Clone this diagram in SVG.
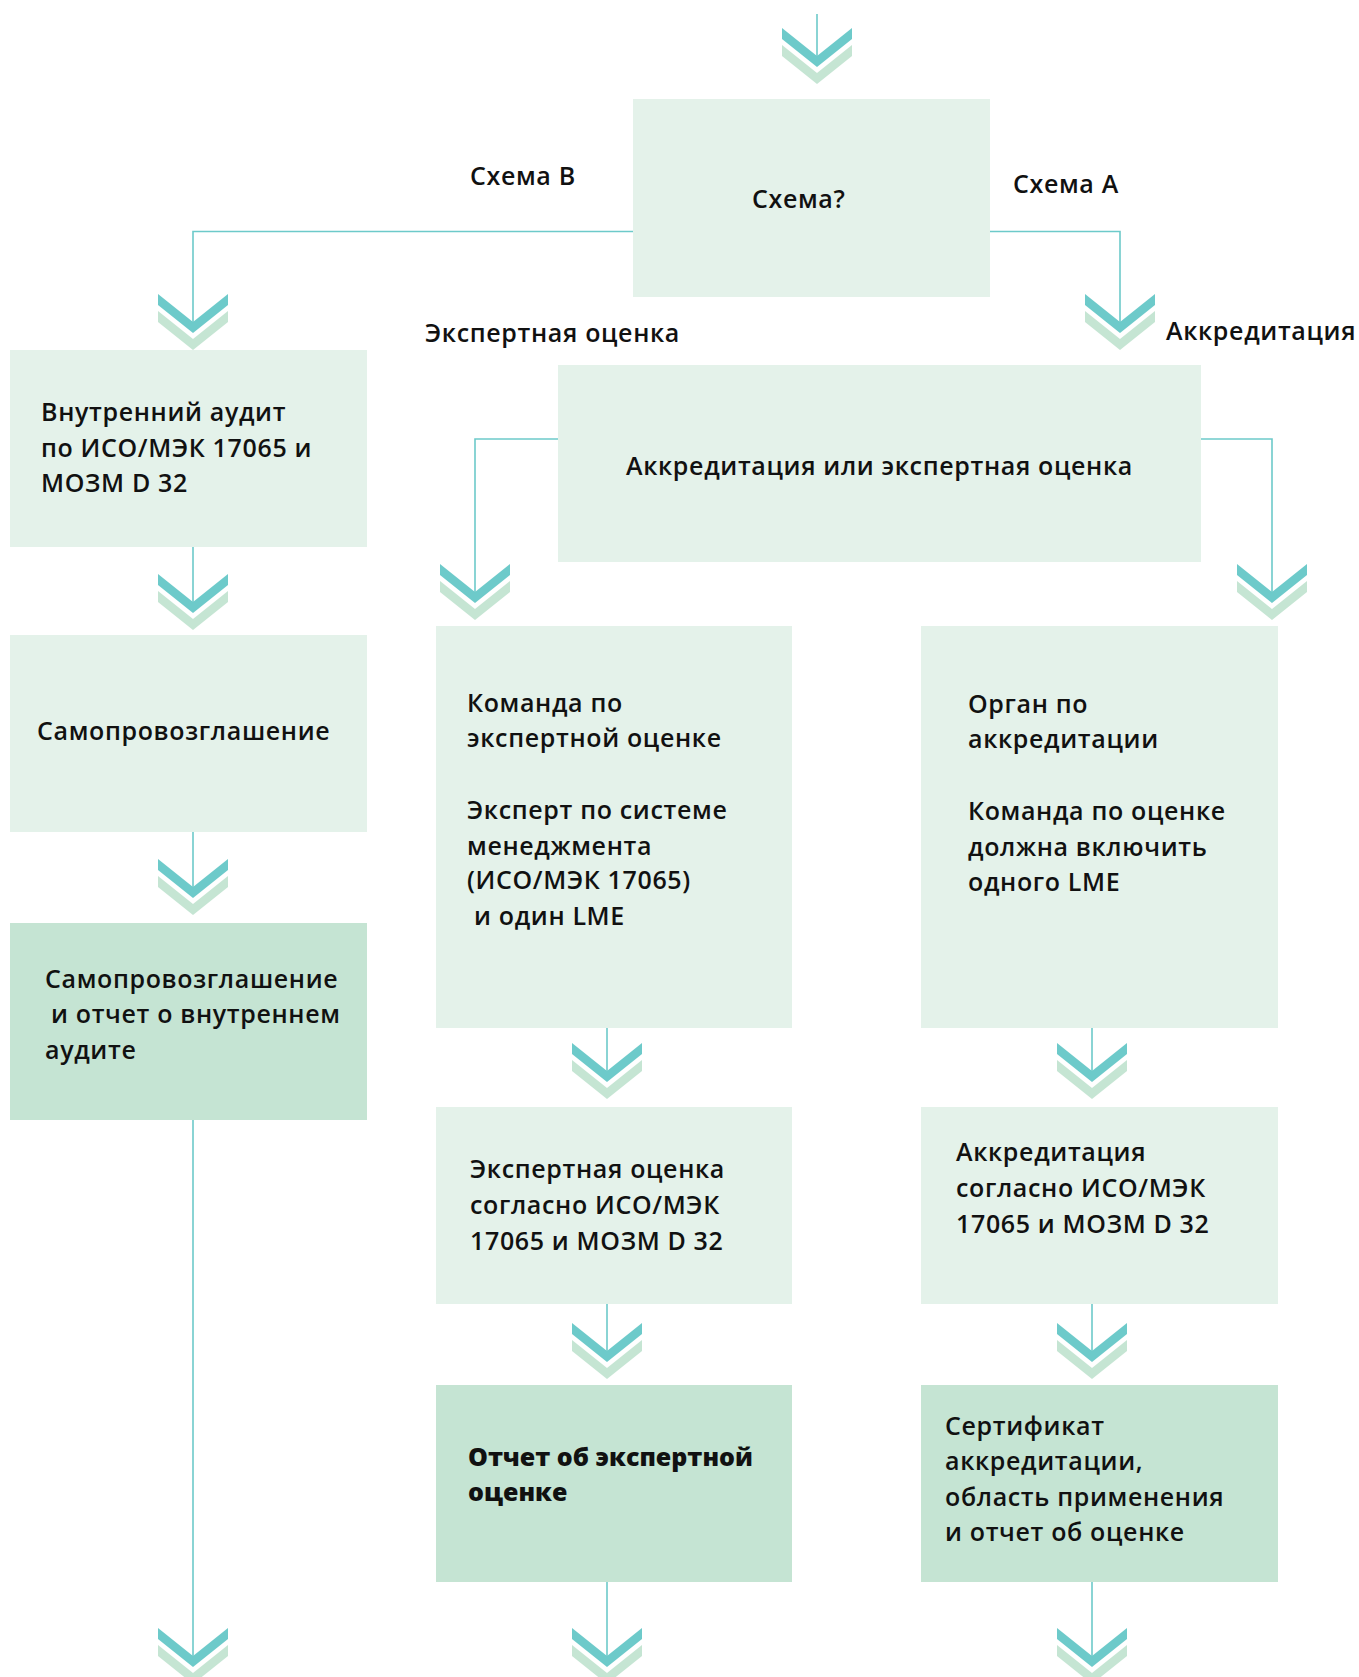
<svg xmlns="http://www.w3.org/2000/svg" xmlns:xlink="http://www.w3.org/1999/xlink" width="1359" height="1677" viewBox="0 0 1359 1677">
<style>
.box{fill:#e4f2ea}
.dark{fill:#c5e4d3}
.t{font-family:"Open Sans","Noto Sans","DejaVu Sans",sans-serif;font-weight:600;font-size:25px;fill:#111;letter-spacing:0.65px}
.b{font-weight:800;letter-spacing:0px}
.conn{fill:none;stroke:#6dcaca;stroke-width:1.6}
</style>
<defs>
<g id="chev">
<polygon points="-35,17 0,45 35,17 35,28 0,56 -35,28" fill="#c5e5d3"/>
<polygon points="-35,0 0,28 35,0 35,11 0,39 -35,11" fill="#6dcaca"/>
</g>
</defs>
<rect width="1359" height="1677" fill="#fff"/>
<g id="connectors">
<path class="conn" d="M817,14 V56"/>
<path class="conn" d="M633,231.5 H193 V322"/>
<path class="conn" d="M990,231.5 H1120 V322"/>
<path class="conn" d="M558,439 H475 V592"/>
<path class="conn" d="M1201,439 H1272 V592"/>
<path class="conn" d="M193,547 V602"/>
<path class="conn" d="M193,832 V887"/>
<path class="conn" d="M193,1119 V1656"/>
<path class="conn" d="M607,1027 V1071"/>
<path class="conn" d="M607,1304 V1351"/>
<path class="conn" d="M607,1582 V1656"/>
<path class="conn" d="M1092,1027 V1071"/>
<path class="conn" d="M1092,1304 V1351"/>
<path class="conn" d="M1092,1582 V1656"/>
<use xlink:href="#chev" x="817" y="28"/>
<use xlink:href="#chev" x="193" y="294"/>
<use xlink:href="#chev" x="1120" y="294"/>
<use xlink:href="#chev" x="475" y="564"/>
<use xlink:href="#chev" x="1272" y="564"/>
<use xlink:href="#chev" x="193" y="574"/>
<use xlink:href="#chev" x="193" y="859"/>
<use xlink:href="#chev" x="193" y="1628"/>
<use xlink:href="#chev" x="607" y="1043"/>
<use xlink:href="#chev" x="607" y="1323"/>
<use xlink:href="#chev" x="607" y="1628"/>
<use xlink:href="#chev" x="1092" y="1043"/>
<use xlink:href="#chev" x="1092" y="1323"/>
<use xlink:href="#chev" x="1092" y="1628"/>
</g>
<g id="labels">
<text class="t" x="470" y="185">Схема B</text>
<text class="t" x="1013" y="193">Схема A</text>
<text class="t" x="425" y="342">Экспертная оценка</text>
<text class="t" x="1166" y="340">Аккредитация</text>
</g>
<g id="n-scheme">
<rect class="box" x="633" y="99" width="357" height="198"/>
<text class="t" x="752" y="208">Схема?</text>
</g>
<g id="n-accr-or-peer">
<rect class="box" x="558" y="365" width="643" height="197"/>
<text class="t" x="626" y="475">Аккредитация или экспертная оценка</text>
</g>
<g id="n-internal-audit">
<rect class="box" x="10" y="350" width="357" height="197"/>
<text class="t" x="41" y="421">Внутренний аудит</text>
<text class="t" x="41" y="456.5">по ИСО/МЭК 17065 и</text>
<text class="t" x="41" y="492">МОЗМ D 32</text>
</g>
<g id="n-self-decl">
<rect class="box" x="10" y="635" width="357" height="197"/>
<text class="t" x="37" y="740">Самопровозглашение</text>
</g>
<g id="n-self-decl-report">
<rect class="dark" x="10" y="923" width="357" height="197"/>
<text class="t" x="45" y="988">Самопровозглашение</text>
<text class="t" x="51" y="1023">и отчет о внутреннем</text>
<text class="t" x="45" y="1058.5">аудите</text>
</g>
<g id="n-peer-team">
<rect class="box" x="436" y="626" width="356" height="402"/>
<text class="t" x="467" y="712">Команда по</text>
<text class="t" x="467" y="746.5">экспертной оценке</text>
<text class="t" x="467" y="819">Эксперт по системе</text>
<text class="t" x="467" y="854.5">менеджмента</text>
<text class="t" x="467" y="889">(ИСО/МЭК 17065)</text>
<text class="t" x="474" y="925">и один LME</text>
</g>
<g id="n-accr-body">
<rect class="box" x="921" y="626" width="357" height="402"/>
<text class="t" x="968" y="712.5">Орган по</text>
<text class="t" x="968" y="747.5">аккредитации</text>
<text class="t" x="968" y="820">Команда по оценке</text>
<text class="t" x="968" y="855.5">должна включить</text>
<text class="t" x="968" y="890.5">одного LME</text>
</g>
<g id="n-peer-eval">
<rect class="box" x="436" y="1107" width="356" height="197"/>
<text class="t" x="470" y="1178">Экспертная оценка</text>
<text class="t" x="470" y="1213.5">согласно ИСО/МЭК</text>
<text class="t" x="470" y="1250">17065 и МОЗМ D 32</text>
</g>
<g id="n-accreditation">
<rect class="box" x="921" y="1107" width="357" height="197"/>
<text class="t" x="956" y="1161">Аккредитация</text>
<text class="t" x="956" y="1196.5">согласно ИСО/МЭК</text>
<text class="t" x="956" y="1233">17065 и МОЗМ D 32</text>
</g>
<g id="n-peer-report">
<rect class="dark" x="436" y="1385" width="356" height="197"/>
<text class="t b" x="468" y="1466">Отчет об экспертной</text>
<text class="t b" x="468" y="1501">оценке</text>
</g>
<g id="n-certificate">
<rect class="dark" x="921" y="1385" width="357" height="197"/>
<text class="t" x="945" y="1435">Сертификат</text>
<text class="t" x="945" y="1470">аккредитации,</text>
<text class="t" x="945" y="1505.5">область применения</text>
<text class="t" x="945" y="1541">и отчет об оценке</text>
</g>
</svg>
